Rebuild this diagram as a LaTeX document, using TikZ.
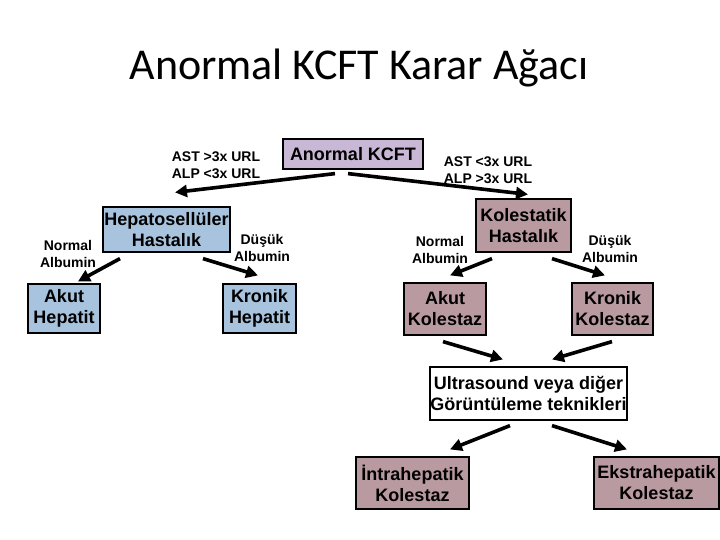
\documentclass[tikz,border=0pt]{standalone}
\usepackage{fontspec}
\setmainfont{Liberation Sans}
\newfontfamily\titlefont{Carlito}
\usetikzlibrary{arrows.meta,calc}
\definecolor{hepblue}{RGB}{167,195,221}
\definecolor{kolmauve}{RGB}{185,154,160}
\definecolor{kcftlav}{RGB}{201,184,213}
\begin{document}
\begin{tikzpicture}[x=1pt,y=-1pt,
  box/.style={draw=black,line width=1.2pt,inner sep=0pt,align=center,
    font=\bfseries\fontsize{18}{21}\selectfont},
  lbl/.style={inner sep=0pt,align=center,font=\bfseries\fontsize{14}{16.5}\selectfont},
  arr/.style={line width=3.6pt,-{Triangle[length=12pt,width=12pt]}}]
\useasboundingbox[fill=white] (0,0) rectangle (720,540);
\node[anchor=base,font=\titlefont\fontsize{44}{50}\selectfont] (title) at (359,80) {Anormal KCFT Karar Ağacı};
% boxes
\node[box,fill=kcftlav,minimum width=140pt,minimum height=30pt] (kcft) at (353,154) {Anormal KCFT};
\node[box,fill=hepblue,minimum width=127pt,minimum height=45pt] (hep) at (166.5,229.5) {Hepatosellüler\\Hastalık};
\node[box,fill=hepblue,minimum width=72pt,minimum height=49pt] (akuth) at (64,308.5) {Akut\\Hepatit};
\node[box,fill=hepblue,minimum width=73pt,minimum height=49pt] (kronh) at (259.5,308.5) {Kronik\\Hepatit};
\node[box,fill=kolmauve,minimum width=95pt,minimum height=53pt] (kol) at (523.5,225.5) {Kolestatik\\Hastalık};
\node[box,fill=kolmauve,minimum width=82pt,minimum height=52pt] (akutk) at (445,309) {Akut\\Kolestaz};
\node[box,fill=kolmauve,minimum width=81pt,minimum height=52pt] (kronk) at (612.5,309) {Kronik\\Kolestaz};
\node[box,fill=white,minimum width=197pt,minimum height=53pt] (us) at (528.5,393.5) {Ultrasound veya diğer\\Görüntüleme teknikleri};
\node[box,fill=kolmauve,minimum width=113pt,minimum height=52pt] (intra) at (412.5,483) {İntrahepatik\\Kolestaz};
\node[box,fill=kolmauve,minimum width=125pt,minimum height=52pt] (ekstra) at (656.5,483) {Ekstrahepatik\\Kolestaz};
% labels
\node[lbl,align=left] (l1) at (216,165) {AST >3x URL\\ALP <3x URL};
\node[lbl,align=left] (l2) at (488,170) {AST <3x URL\\ALP >3x URL};
\node[lbl] (l3) at (68,254) {Normal\\Albumin};
\node[lbl] (l4) at (262,248) {Düşük\\Albumin};
\node[lbl] (l5) at (440,250) {Normal\\Albumin};
\node[lbl] (l6) at (610,249) {Düşük\\Albumin};
% arrows
\draw[arr] ($(kcft.south)+(-18,4)$) -- ($(hep.north)+(8.5,-14)$);
\draw[arr] ($(kcft.south)+(-5,4)$) -- ($(kol.north)+(4.5,-4)$);
\draw[arr] ($(hep.south)+(-46.5,6)$) -- ($(akuth.north)+(14,-2)$);
\draw[arr] ($(hep.south)+(36.5,6)$) -- ($(kronh.north)+(-1.5,-8)$);
\draw[arr] ($(kol.south)+(-31.5,6)$) -- ($(akutk.north)+(5,-7)$);
\draw[arr] ($(kol.south)+(28.5,6)$) -- ($(kronk.north)+(-7.5,-7)$);
\draw[arr] ($(akutk.south)+(-2,6)$) -- ($(us.north)+(-25.5,-7)$);
\draw[arr] ($(kronk.south)+(-0.5,6)$) -- ($(us.north)+(23.5,-7)$);
\draw[arr] ($(us.south)+(-18.5,5)$) -- ($(intra.north)+(37.5,-7)$);
\draw[arr] ($(us.south)+(23.5,5)$) -- ($(ekstra.north)+(-29.5,-7)$);
\end{tikzpicture}
\end{document}
